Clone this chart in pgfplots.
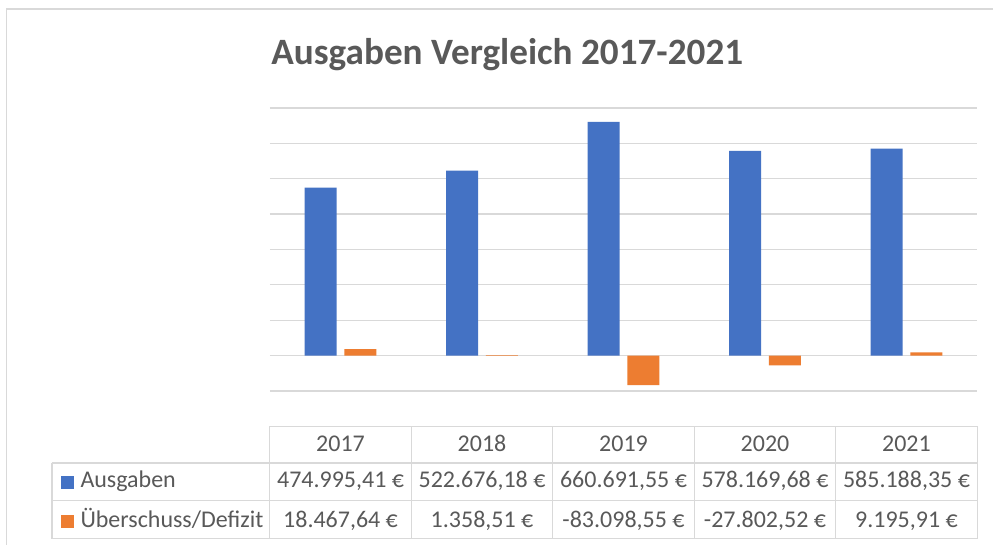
\documentclass[border=0pt]{standalone}
\usepackage{pgfplots}
\pgfplotsset{compat=1.18}
\usepackage{fontspec}
\setmainfont{Carlito}
\definecolor{blueA}{HTML}{4472C4}
\definecolor{orangeA}{HTML}{ED7D31}
\definecolor{txt}{HTML}{595959}
\definecolor{gridc}{HTML}{D9D9D9}
\begin{document}
\begin{tikzpicture}
\begin{scope}[x=0.75pt,y=-0.75pt]
\fill[white] (0,0) rectangle (994,545);
\draw[gridc, line width=1.2pt] (6.5,545) -- (6.5,9) -- (994,9);
\node[text=txt, anchor=base, font=\fontsize{27.9}{32}\selectfont\bfseries] at (507.7,65) {Ausgaben Vergleich 2017-2021};
\end{scope}
\begin{axis}[at={(202.5pt,-293.475pt)}, anchor=south west, scale only axis,
  width=531pt, height=212.5pt,
  xmin=-0.5, xmax=4.5, ymin=-100000, ymax=700000,
  ytick={-100000,0,...,700000}, ymajorgrids, scaled y ticks=false,
  grid style={gridc, line width=1pt},
  axis line style={draw=none}, major tick length=0pt,
  xtick=\empty, yticklabels={},
  ybar, bar width=0.226]
\addplot[fill=blueA, draw=none, bar shift=-0.141] coordinates {(0,474995.41) (1,522676.18) (2,660691.55) (3,578169.68) (4,585188.35)};
\addplot[fill=orangeA, draw=none, bar shift=0.141] coordinates {(0,18467.64) (1,1358.51) (2,-83098.55) (3,-27802.52) (4,9195.91)};
\end{axis}
\begin{scope}[x=0.75pt,y=-0.75pt]
\draw[gridc, line width=1pt] (270,426.7) -- (978,426.7);
\foreach \yy in {463.3,501,539} \draw[gridc, line width=1pt] (52,\yy) -- (978,\yy);
\draw[gridc, line width=1pt] (52,463.3) -- (52,539);
\foreach \xx in {270,411.6,553.2,694.8,836.4,978} \draw[gridc, line width=1pt] (\xx,426.7) -- (\xx,539);
\tikzset{cell/.style={text=txt, anchor=base, font=\fontsize{18}{22}\selectfont, inner sep=0pt}}
\foreach \x/\t in {340.8/2017,482.4/2018,624/2019,765.6/2020,907.2/2021}
  \node[cell] at (\x,452.3) {\t};
\foreach \x/\t in {340.8/{474.995,41 €},482.4/{522.676,18 €},624/{660.691,55 €},765.6/{578.169,68 €},907.2/{585.188,35 €}}
  \node[cell] at (\x,488.3) {\t};
\foreach \x/\t in {340.8/{18.467,64 €},482.4/{1.358,51 €},624/{-83.098,55 €},765.6/{-27.802,52 €},907.2/{9.195,91 €}}
  \node[cell] at (\x,527.7) {\t};
\fill[blueA] (61.5,476.5) rectangle (74.5,489.5);
\fill[orangeA] (61.5,515) rectangle (74.5,528);
\node[cell, anchor=base west] at (80.3,488.3) {Ausgaben};
\node[cell, anchor=base west] at (80.3,527.7) {Überschuss/Defizit};
\end{scope}
\end{tikzpicture}
\end{document}
